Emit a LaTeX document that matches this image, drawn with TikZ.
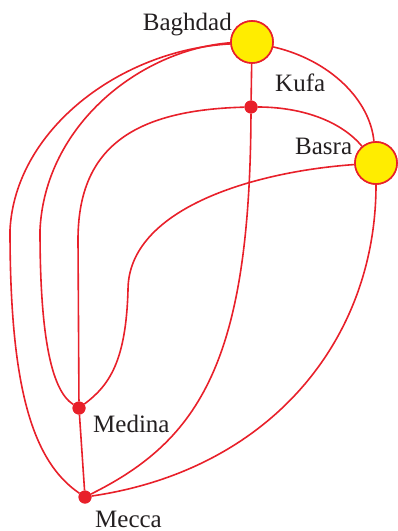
\documentclass[tikz,border=0pt]{standalone}
\usepackage{fontspec}
\setmainfont{Liberation Serif}
\definecolor{routered}{HTML}{E8202A}
\definecolor{cityyellow}{HTML}{FFED00}
\definecolor{labelgray}{HTML}{231F20}
\begin{document}
\begin{tikzpicture}[x=1bp,y=-1bp,
  route/.style={draw=routered,line width=1.6bp},
  bigcity/.style={circle,draw=routered,fill=cityyellow,line width=1.6bp,minimum size=42bp,inner sep=0pt},
  smallcity/.style={circle,fill=routered,minimum size=13bp,inner sep=0pt},
  citylabel/.style={inner sep=0pt,text=labelgray,font=\fontsize{25bp}{30bp}\selectfont}]
\useasboundingbox (0,0) rectangle (397,531);
% cities
\node[bigcity] (bag) at (252,42) {};
\node[bigcity] (bas) at (376,163) {};
\node[smallcity] (kuf) at (251,107) {};
\node[smallcity] (med) at (79,408) {};
\node[smallcity] (mec) at (85,497) {};
% labels
\node[citylabel,anchor=base east] (lbag) at (232,31) {Baghdad};
\node[citylabel,anchor=base west] (lkuf) at (275,92) {Kufa};
\node[citylabel,anchor=base west] (lbas) at (295,155) {Basra};
\node[citylabel,anchor=base west] (lmed) at (93,432) {Medina};
\node[citylabel,anchor=base west] (lmec) at (95,527) {Mecca};
% routes
\path[route] (bag.185) .. controls (120,50) and (15,130) .. (10,230)
  .. controls (10,380) and (30,460) .. (mec);
\path[route] (bag.182) .. controls (140,50) and (45,125) .. (40,230)
  .. controls (40,330) and (50,390) .. (med);
\path[route] (kuf) .. controls (130,110) and (78,150) .. (78,240) -- (med);
\path[route] (bas) .. controls (250,172) and (128,210) .. (128,290)
  .. controls (126,360) and (110,385) .. (med);
\path[route] (bag) -- (kuf);
\path[route] (med) -- (mec);
\path[route] (kuf) .. controls (250,360) and (200,440) .. (mec);
\path[route] (bas) .. controls (376,340) and (270,470) .. (mec);
\path[route] (bag) .. controls (330,60) and (370,100) .. (bas);
\path[route] (kuf) .. controls (300,107) and (340,120) .. (bas);
% redraw cities on top
\node[bigcity] at (bag) {};
\node[bigcity] at (bas) {};
\node[smallcity] at (kuf) {};
\node[smallcity] at (med) {};
\node[smallcity] at (mec) {};
\end{tikzpicture}
\end{document}
